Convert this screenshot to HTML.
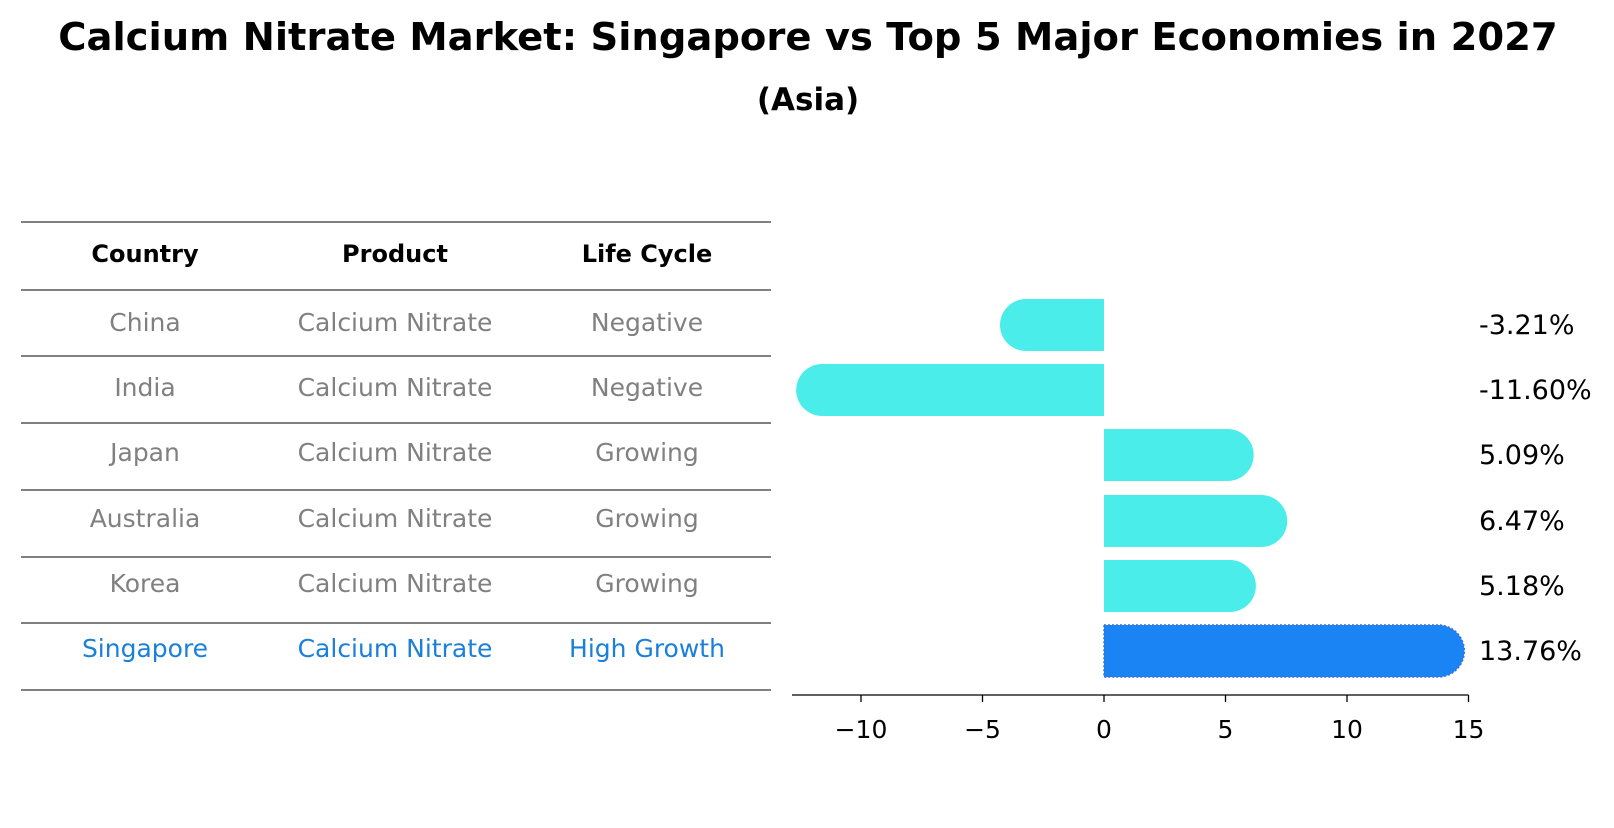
<!DOCTYPE html>
<html><head><meta charset="utf-8"><style>
body{margin:0;background:#fff;font-family:"Liberation Sans","DejaVu Sans",sans-serif}
</style></head><body>
<svg width="1614" height="823" xmlns="http://www.w3.org/2000/svg" font-family="DejaVu Sans, Liberation Sans, sans-serif">
<text x="808" y="50" text-anchor="middle" font-size="38.5" font-weight="bold">Calcium Nitrate Market: Singapore vs Top 5 Major Economies in 2027</text>
<text x="808" y="110" text-anchor="middle" font-size="31" font-weight="bold">(Asia)</text>
<g id="table"></g>
<g id="bars"></g>
</svg>
<script>
const countries=["China","India","Japan","Australia","Korea","Singapore"];
const lifeCycle=["Negative","Negative","Growing","Growing","Growing","High Growth"];
const growth=[-3.21,-11.60,5.09,6.47,5.18,13.76];
const growthLabels=["-3.21%","-11.60%","5.09%","6.47%","5.18%","13.76%"];
const ticks=[-10,-5,0,5,10,15];
const NS="http://www.w3.org/2000/svg";
function mk(tag,attrs,parent,text){const e=document.createElementNS(NS,tag);for(const k in attrs)e.setAttribute(k,attrs[k]);if(text!==undefined)e.textContent=text;parent.appendChild(e);return e;}
const table=document.getElementById('table');
const lineY=[222,290,356,423,490,557,623,690];
lineY.forEach(y=>{const l=mk('line',{x1:21,x2:771,y1:y,y2:y,stroke:'#000','stroke-width':1},table);

});
const cx=[145,395,647];
["Country","Product","Life Cycle"].forEach((h,i)=>{const t=mk('text',{x:cx[i],y:262,'text-anchor':'middle','font-size':24,'font-weight':'bold'},table,h);

});
const rowY=[325,390,455,521,586,651];
countries.forEach((c,i)=>{const col=i===5?'#1a80d9':'#808080';
[c,"Calcium Nitrate",lifeCycle[i]].forEach((v,j)=>{const t=mk('text',{x:cx[j],y:rowY[i]+6,'text-anchor':'middle','font-size':25,fill:col},table,v);

});});
const bars=document.getElementById('bars');
const X=v=>1104+v*24.3;
const H=52,R=26;
growth.forEach((v,i)=>{const y0=rowY[i]-H/2,y1=rowY[i]+H/2,x0=X(0),xe=X(v);
let d;
if(v>=0){d=`M${x0},${y0} H${xe} A${R},${R} 0 0 1 ${xe},${y1} H${x0} Z`;}
else{d=`M${x0},${y0} H${xe} A${R},${R} 0 0 0 ${xe},${y1} H${x0} Z`;}
const last=i===5;
const p=mk('path',{d:d,fill:last?'#1a84f5':'#4aedea',stroke:last?'#3a6fd0':'none','stroke-width':last?1.5:0,'stroke-dasharray':last?'2,2':''},bars);


const t=mk('text',{x:1479,y:rowY[i]+9,'font-size':27},bars,growthLabels[i]);

});
const ax=mk('line',{x1:792,x2:X(15),y1:695,y2:695,stroke:'#000','stroke-width':1.3},bars);


ticks.forEach(tv=>{const l=mk('line',{x1:X(tv),x2:X(tv),y1:695,y2:702,stroke:'#000','stroke-width':1.3},bars);


const t=mk('text',{x:X(tv),y:738,'text-anchor':'middle','font-size':25},bars,tv<0?'\u2212'+Math.abs(tv):String(tv));

});
</script>
</body></html>
